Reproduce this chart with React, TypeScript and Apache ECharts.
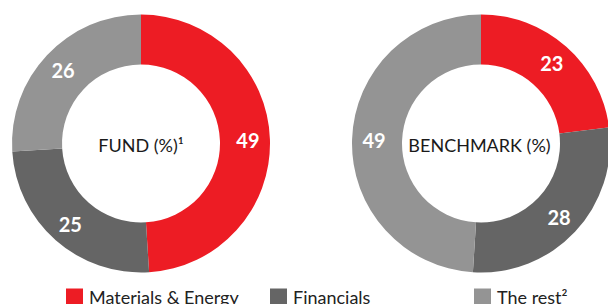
import React, { useEffect, useRef } from "react";
import * as echarts from "echarts";

const categories = ["Materials & Energy", "Financials", "The rest²"];
const fundValues = [49, 25, 26];
const benchmarkValues = [23, 28, 49];
const colors = ["#ED1C24", "#656565", "#949494"];
const fundTitle = "FUND (%)¹";
const benchmarkTitle = "BENCHMARK (%)";

const FONT = "Lato, 'Noto Sans', sans-serif";

export default function App() {
  const ref = useRef<HTMLDivElement>(null);
  useEffect(() => {
    if (!ref.current) return;
    const chart = echarts.init(ref.current, undefined, { renderer: "svg" });
    const mkData = (vals: number[]) =>
      vals.map((v, i) => ({ name: categories[i], value: v, itemStyle: { color: colors[i] } }));
    const label = {
      show: true,
      position: "inside",
      formatter: "{c}",
      color: "#fff",
      fontWeight: "bold",
      fontSize: 20,
      fontFamily: FONT,
    };
    const legendLefts = [66, 270, 474];
    chart.setOption({
      animation: false,
      legend: categories.map((c, i) => ({
        data: [c],
        left: legendLefts[i],
        top: 288,
        padding: 0,
        icon: "rect",
        itemWidth: 17,
        itemHeight: 17,
        itemGap: 6,
        selectedMode: false,
        textStyle: { fontSize: 18, color: "#222", fontFamily: FONT, padding: [0, 0, 0, 1] },
      })),
      graphic: [
        {
          type: "text",
          x: 141,
          y: 145,
          style: {
            text: fundTitle,
            align: "center",
            verticalAlign: "middle",
            fontSize: 18,
            fill: "#1a1a1a",
            fontFamily: FONT,
          },
        },
        {
          type: "text",
          x: 479.5,
          y: 145,
          style: {
            text: benchmarkTitle,
            align: "center",
            verticalAlign: "middle",
            fontSize: 18,
            fill: "#1a1a1a",
            fontFamily: FONT,
          },
        },
      ],
      series: [
        {
          type: "pie",
          center: [141, 143.5],
          radius: [79, 129],
          startAngle: 90,
          clockwise: true,
          label,
          labelLine: { show: false },
          emphasis: { disabled: true },
          data: mkData(fundValues),
        },
        {
          type: "pie",
          center: [481, 143.5],
          radius: [79, 129],
          startAngle: 90,
          clockwise: true,
          label,
          labelLine: { show: false },
          emphasis: { disabled: true },
          data: mkData(benchmarkValues),
        },
      ],
    });
    return () => chart.dispose();
  }, []);
  return (
    <div
      ref={ref}
      style={{ position: "fixed", left: 0, top: 0, width: 608, height: 304, background: "#fff" }}
    />
  );
}
